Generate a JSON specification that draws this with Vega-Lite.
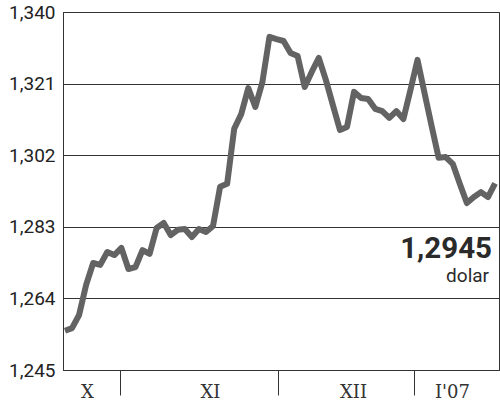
{
  "$schema": "https://vega.github.io/schema/vega-lite/v6.json",
  "width": 436,
  "height": 358,
  "autosize": "none",
  "padding": {"left": 63, "top": 12, "right": 1, "bottom": 32},
  "background": "white",
  "config": {
    "view": {"stroke": "#333", "strokeWidth": 1},
    "locale": {"number": {"decimal": ",", "thousands": " ", "grouping": [3], "currency": ["", " zł"]}}
  },
  "data": {"values": [
    {"t": 0, "v": 1.2554}, {"t": 1, "v": 1.2561}, {"t": 2, "v": 1.2596}, {"t": 3, "v": 1.2676},
    {"t": 4, "v": 1.2734}, {"t": 5, "v": 1.2729}, {"t": 6, "v": 1.2763}, {"t": 7, "v": 1.2755},
    {"t": 8, "v": 1.2774}, {"t": 9, "v": 1.2718}, {"t": 10, "v": 1.2723}, {"t": 11, "v": 1.2768},
    {"t": 12, "v": 1.2758}, {"t": 13, "v": 1.2827}, {"t": 14, "v": 1.2840}, {"t": 15, "v": 1.2808},
    {"t": 16, "v": 1.2822}, {"t": 17, "v": 1.2824}, {"t": 18, "v": 1.2803}, {"t": 19, "v": 1.2824},
    {"t": 20, "v": 1.2816}, {"t": 21, "v": 1.2832}, {"t": 22, "v": 1.2936}, {"t": 23, "v": 1.2944},
    {"t": 24, "v": 1.3090}, {"t": 25, "v": 1.3129}, {"t": 26, "v": 1.3198}, {"t": 27, "v": 1.3148},
    {"t": 28, "v": 1.3214}, {"t": 29, "v": 1.3334}, {"t": 30, "v": 1.3328}, {"t": 31, "v": 1.3323},
    {"t": 32, "v": 1.3291}, {"t": 33, "v": 1.3283}, {"t": 34, "v": 1.3201}, {"t": 35, "v": 1.3241},
    {"t": 36, "v": 1.3278}, {"t": 37, "v": 1.3220}, {"t": 38, "v": 1.3153}, {"t": 39, "v": 1.3087},
    {"t": 40, "v": 1.3095}, {"t": 41, "v": 1.3188}, {"t": 42, "v": 1.3172}, {"t": 43, "v": 1.3169},
    {"t": 44, "v": 1.3143}, {"t": 45, "v": 1.3137}, {"t": 46, "v": 1.3119}, {"t": 47, "v": 1.3137},
    {"t": 48, "v": 1.3116}, {"t": 49, "v": 1.3193}, {"t": 50, "v": 1.3273}, {"t": 51, "v": 1.3185},
    {"t": 52, "v": 1.3098}, {"t": 53, "v": 1.3013}, {"t": 54, "v": 1.3015}, {"t": 55, "v": 1.2997},
    {"t": 56, "v": 1.2944}, {"t": 57, "v": 1.2893}, {"t": 58, "v": 1.2909}, {"t": 59, "v": 1.2922},
    {"t": 60, "v": 1.2909}, {"t": 61, "v": 1.2945}
  ]},
  "encoding": {
    "x": {
      "field": "t", "type": "quantitative",
      "scale": {"domain": [-0.28, 61.56], "nice": false, "zero": false},
      "axis": {
        "title": null,
        "grid": false,
        "values": [3.12, 7.8, 20.57, 30.2, 40.85, 49.5, 54.89],
        "labelExpr": "datum.value < 5 ? 'X' : (datum.value > 20 && datum.value < 21) ? 'XI' : (datum.value > 40 && datum.value < 41) ? 'XII' : datum.value > 54 ? \"I'07\" : ''",
        "tickColor": {"condition": {"test": "datum.value == 7.8 || datum.value == 30.2 || datum.value == 49.5", "value": "#333"}, "value": "transparent"},
        "tickSize": 25,
        "tickWidth": 1,
        "labelPadding": -12,
        "labelFont": "DejaVu Serif",
        "labelFontSize": 18,
        "labelColor": "#333",
        "labelOverlap": false,
        "labelFlush": false,
        "labelBound": false,
        "domainColor": "#333",
        "domainWidth": 1
      }
    },
    "y": {
      "field": "v", "type": "quantitative",
      "scale": {"domain": [1.245, 1.34], "nice": false, "zero": false},
      "axis": {
        "title": null,
        "values": [1.245, 1.264, 1.283, 1.302, 1.321, 1.34],
        "format": ".3f",
        "grid": true,
        "gridColor": "#333",
        "gridWidth": 1,
        "ticks": false,
        "domainColor": "#333",
        "domainWidth": 1,
        "labelFont": "Roboto",
        "labelFontSize": 19,
        "labelColor": "#222",
        "labelPadding": 8
      }
    }
  },
  "layer": [
    {
      "mark": {"type": "line", "color": "#636363", "strokeWidth": 6, "strokeJoin": "round"}
    },
    {
      "transform": [{"filter": "datum.t == 61"}],
      "mark": {"type": "text", "align": "right", "baseline": "alphabetic", "dx": -3, "dy": 75, "font": "Roboto", "fontWeight": "bold", "fontSize": 29.5, "color": "#2a2a2a"},
      "encoding": {"text": {"field": "v", "type": "quantitative", "format": ".4f"}}
    },
    {
      "transform": [{"filter": "datum.t == 61"}],
      "mark": {"type": "text", "align": "right", "baseline": "alphabetic", "dx": -6, "dy": 99, "font": "Roboto", "fontSize": 19, "color": "#2a2a2a"},
      "encoding": {"text": {"value": "dolar"}}
    }
  ]
}
